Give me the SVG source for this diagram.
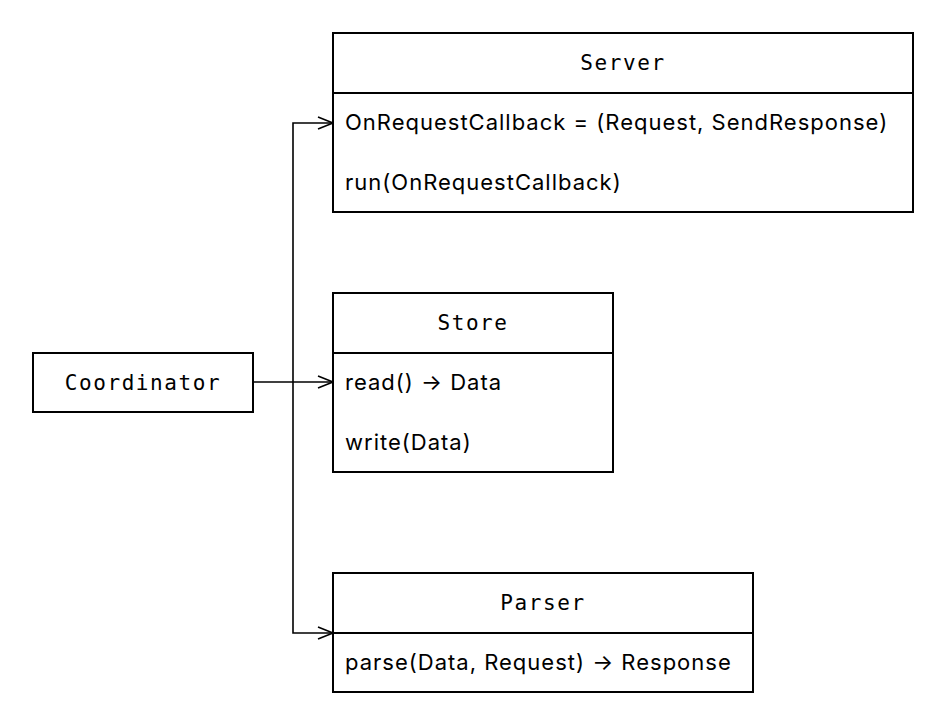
<svg xmlns="http://www.w3.org/2000/svg" width="946" height="726" viewBox="0 0 946 726">
<style>
.box{fill:#fff;stroke:#000;stroke-width:2}
.div{stroke:#000;stroke-width:2}
.title{font-family:"DejaVu Sans Mono","Liberation Mono",monospace;font-size:21px;letter-spacing:1.6px;text-anchor:middle;fill:#000}
.body{font-family:Inter,"Noto Sans","DejaVu Sans",sans-serif;font-size:22px;letter-spacing:1px;fill:#000}
.conn{fill:none;stroke:#000;stroke-width:1.6}
</style>
<defs>
<marker id="arr" markerWidth="20" markerHeight="20" refX="16" refY="7" markerUnits="userSpaceOnUse" orient="auto">
<path d="M1,1 L16,7 L1,13" fill="none" stroke="#000" stroke-width="1.6"/>
</marker>
</defs>
<g id="connectors">
<path class="conn" d="M253,382 L333,382" marker-end="url(#arr)"/>
<path class="conn" d="M293,382 L293,123 L333,123" marker-end="url(#arr)"/>
<path class="conn" d="M293,382 L293,633 L333,633" marker-end="url(#arr)"/>
</g>
<g id="server">
<rect class="box" x="333" y="33" width="580" height="179"/>
<line class="div" x1="333" y1="93" x2="913" y2="93"/>
<text class="title" x="623" y="70">Server</text>
<text class="body" x="345" y="130">OnRequestCallback = (Request, SendResponse)</text>
<text class="body" x="345" y="190">run(OnRequestCallback)</text>
</g>
<g id="store">
<rect class="box" x="333" y="293" width="280" height="179"/>
<line class="div" x1="333" y1="353" x2="613" y2="353"/>
<text class="title" x="473" y="330">Store</text>
<text class="body" x="345" y="390">read() → Data</text>
<text class="body" x="345" y="450">write(Data)</text>
</g>
<g id="parser">
<rect class="box" x="333" y="573" width="420" height="119"/>
<line class="div" x1="333" y1="633" x2="753" y2="633"/>
<text class="title" x="543" y="610">Parser</text>
<text class="body" x="345" y="670">parse(Data, Request) → Response</text>
</g>
<g id="coordinator">
<rect class="box" x="33" y="353" width="220" height="59"/>
<text class="title" x="143" y="390">Coordinator</text>
</g>
</svg>
